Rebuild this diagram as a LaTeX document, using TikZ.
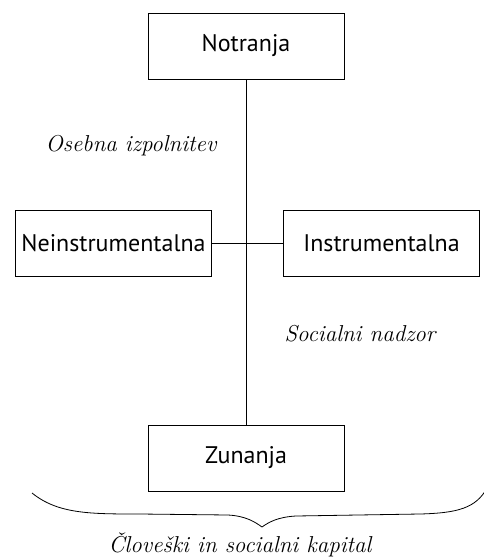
\documentclass[tikz,border=0pt]{standalone}
\usepackage{fontspec}
\newfontfamily\boxfont{PT Sans}

\begin{document}
\begin{tikzpicture}[x=1pt, y=-1pt,
    box/.style={draw, line width=0.9pt, minimum width=196pt, minimum height=66pt,
                inner sep=0pt, font=\boxfont\fontsize{24}{28}\selectfont},
    aspect/.style={inner sep=0pt, font=\itshape\fontsize{23}{27}\selectfont}]

    % canvas
    \useasboundingbox (0,0) rectangle (483,558);

    % constants
    \def\xmid{246}
    \def\ymid{243.5}

    % boxes
    \node [box] (notranja) at (\xmid,46) {Notranja};
    \node [box] (zunanja) at (\xmid,458) {Zunanja};
    \node [box] (neinstr) at (113.5,\ymid) {Neinstrumentalna};
    \node [box] (instr) at (381.5,\ymid) {Instrumentalna};

    % axes
    \draw [line width=0.8pt] (notranja) -- (zunanja);
    \draw [line width=0.8pt] (neinstr) -- (instr);

    % quadrant labels
    \node [aspect] (osebna) at (131,146) {Osebna izpolnitev};
    \node [aspect] (nadzor) at (360,334) {Socialni nadzor};

    % brace
    \draw [line width=0.8pt] (32,493) .. controls (58,514) and (90,514) .. (140,514)
        -- (228,515) .. controls (246,516) and (255,522) .. (262,527)
        .. controls (269,522) and (278,517) .. (296,516)
        -- (420,514) .. controls (458,513) and (476,508) .. (487,488);
    \node [aspect] (kapital) at (240,545) {Človeški in socialni kapital};

\end{tikzpicture}
\end{document}
